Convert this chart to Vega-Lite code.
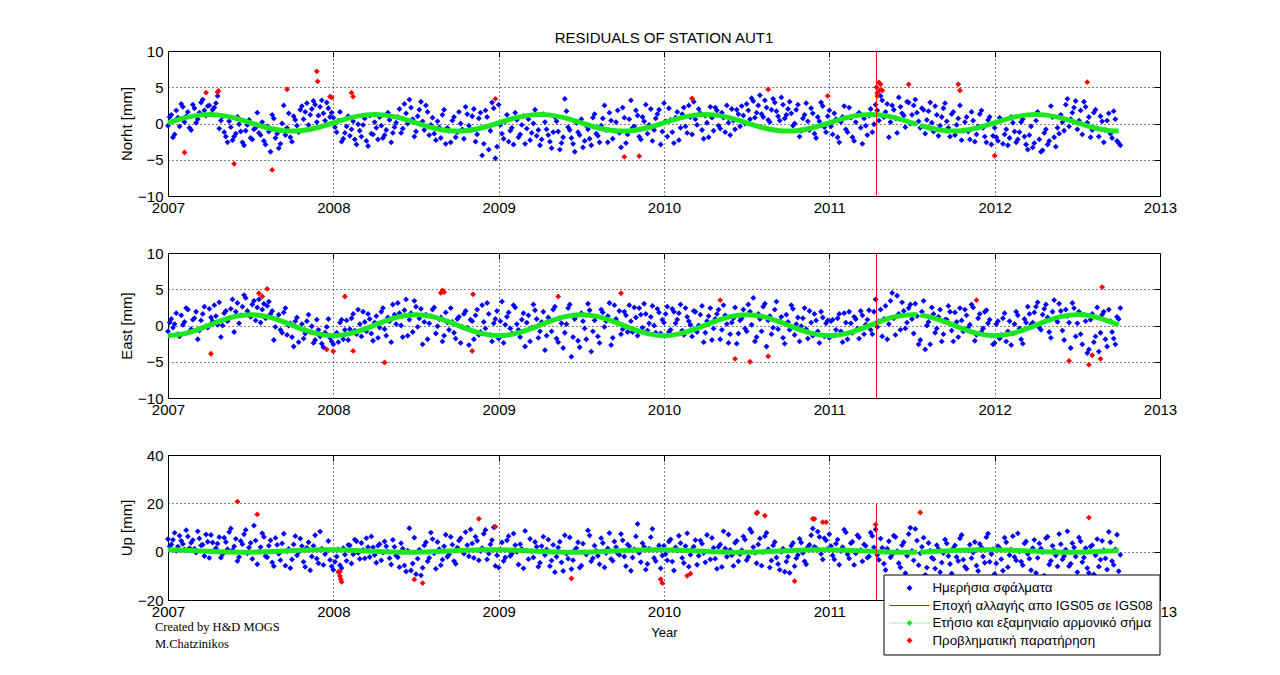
{
"$schema": "https://vega.github.io/schema/vega-lite/v6.json",
"padding": {"left": 119, "top": 30, "right": 5, "bottom": 5},
"bounds": "flush",
"spacing": 57,
"config": {
  "font": "Liberation Sans",
  "view": {"stroke": "black", "strokeWidth": 1},
  "axis": {"labelFont": "Liberation Sans", "labelFontSize": 15, "labelColor": "black", "titleFont": "Liberation Sans", "titleFontSize": 15, "titleFontWeight": "normal", "titleColor": "black", "domainColor": "black", "tickColor": "black", "ticks": false, "gridColor": "black", "gridDash": [1, 3], "gridOpacity": 1, "labelOverlap": false, "labelFlush": false}
},
"datasets": {
"daily": [
{"t":2007.00,"n":-0.3,"e":-0.8,"u":5.2},{"t":2007.02,"n":1.2,"e":0.9,"u":3.0},{"t":2007.04,"n":-1.5,"e":0.2,"u":7.8},{"t":2007.06,"n":0.8,"e":-1.2,"u":2.1},{"t":2007.08,"n":2.7,"e":1.4,"u":4.5},{"t":2007.10,"n":0.2,"e":0.5,"u":0.9},{"t":2007.12,"n":1.6,"e":2.2,"u":6.3},{"t":2007.14,"n":-0.9,"e":-0.5,"u":3.7},{"t":2007.16,"n":2.1,"e":1.0,"u":1.2},{"t":2007.18,"n":0.6,"e":-1.9,"u":8.4},
{"t":2007.20,"n":2.9,"e":0.7,"u":2.6},{"t":2007.22,"n":1.8,"e":2.6,"u":-1.8},{"t":2007.24,"n":2.4,"e":-0.3,"u":4.1},{"t":2007.26,"n":1.3,"e":1.1,"u":6.9},{"t":2007.28,"n":2.2,"e":2.8,"u":0.4},{"t":2007.30,"n":3.8,"e":0.1,"u":3.3},{"t":2007.32,"n":0.4,"e":-1.6,"u":-2.5},{"t":2007.34,"n":-1.2,"e":1.7,"u":5.8},{"t":2007.36,"n":-2.6,"e":0.6,"u":1.0},{"t":2007.38,"n":-0.5,"e":2.3,"u":9.6},
{"t":2007.40,"n":-1.8,"e":-0.9,"u":2.2},{"t":2007.42,"n":0.9,"e":3.1,"u":-3.9},{"t":2007.44,"n":-1.1,"e":1.4,"u":4.4},{"t":2007.46,"n":-3.0,"e":4.2,"u":7.2},{"t":2007.48,"n":-0.2,"e":2.0,"u":-0.7},{"t":2007.50,"n":-2.0,"e":1.2,"u":3.6},{"t":2007.52,"n":-0.8,"e":3.4,"u":10.8},{"t":2007.54,"n":1.5,"e":2.5,"u":-5.2},{"t":2007.56,"n":-1.6,"e":0.4,"u":1.9},{"t":2007.58,"n":-2.4,"e":3.0,"u":6.1},
{"t":2007.60,"n":-0.4,"e":2.7,"u":-2.3},{"t":2007.62,"n":-3.9,"e":1.6,"u":4.7},{"t":2007.64,"n":0.7,"e":-2.0,"u":-6.0},{"t":2007.66,"n":-1.4,"e":0.9,"u":2.8},{"t":2007.68,"n":-2.8,"e":-0.6,"u":-3.5},{"t":2007.70,"n":2.5,"e":1.8,"u":7.4},{"t":2007.72,"n":-0.6,"e":-1.3,"u":0.2},{"t":2007.74,"n":-1.9,"e":0.3,"u":-6.8},{"t":2007.76,"n":1.0,"e":-2.9,"u":3.0},{"t":2007.78,"n":-0.3,"e":1.1,"u":-1.5},
{"t":2007.80,"n":1.9,"e":-0.4,"u":5.4},{"t":2007.82,"n":0.6,"e":-1.8,"u":-4.2},{"t":2007.84,"n":2.8,"e":0.6,"u":1.6},{"t":2007.86,"n":1.2,"e":-0.9,"u":-7.7},{"t":2007.88,"n":3.1,"e":-2.4,"u":2.4},{"t":2007.90,"n":0.2,"e":0.8,"u":-2.9},{"t":2007.92,"n":2.3,"e":-1.5,"u":8.3},{"t":2007.94,"n":1.4,"e":-3.0,"u":-5.5},{"t":2007.96,"n":2.9,"e":-0.2,"u":0.5},{"t":2007.98,"n":0.9,"e":-1.7,"u":-3.4},
{"t":2008.00,"n":0.8,"e":-2.6,"u":-7.5},{"t":2008.02,"n":-1.2,"e":-1.0,"u":-2.0},{"t":2008.04,"n":1.6,"e":0.4,"u":-5.6},{"t":2008.06,"n":-2.1,"e":-1.9,"u":1.4},{"t":2008.08,"n":-0.4,"e":0.7,"u":-3.8},{"t":2008.10,"n":-1.7,"e":-0.5,"u":2.6},{"t":2008.12,"n":0.3,"e":1.6,"u":-1.1},{"t":2008.14,"n":-2.9,"e":-1.2,"u":4.3},{"t":2008.16,"n":-1.0,"e":0.2,"u":-3.0},{"t":2008.18,"n":-0.2,"e":1.9,"u":0.7},
{"t":2008.20,"n":-2.4,"e":-0.8,"u":5.6},{"t":2008.22,"n":1.1,"e":0.9,"u":-2.2},{"t":2008.24,"n":-1.5,"e":-2.1,"u":1.8},{"t":2008.26,"n":-0.6,"e":1.3,"u":-4.6},{"t":2008.28,"n":0.9,"e":-0.3,"u":3.1},{"t":2008.30,"n":-2.0,"e":2.4,"u":-0.4},{"t":2008.32,"n":-0.9,"e":-1.4,"u":2.2},{"t":2008.34,"n":0.5,"e":0.6,"u":-2.7},{"t":2008.36,"n":-1.3,"e":2.9,"u":4.9},{"t":2008.38,"n":0.1,"e":0.2,"u":-1.6},
{"t":2008.40,"n":2.0,"e":1.7,"u":-6.4},{"t":2008.42,"n":-0.7,"e":-1.6,"u":1.2},{"t":2008.44,"n":1.4,"e":3.6,"u":-8.2},{"t":2008.46,"n":3.3,"e":0.8,"u":9.7},{"t":2008.48,"n":0.6,"e":-0.9,"u":-4.9},{"t":2008.50,"n":-1.1,"e":2.6,"u":-9.3},{"t":2008.52,"n":1.9,"e":1.0,"u":0.8},{"t":2008.54,"n":0.3,"e":-2.6,"u":-6.7},{"t":2008.56,"n":2.5,"e":1.5,"u":3.9},{"t":2008.58,"n":-1.6,"e":0.3,"u":-2.6},
{"t":2008.60,"n":0.8,"e":2.2,"u":5.2},{"t":2008.62,"n":-2.3,"e":-1.1,"u":-7.1},{"t":2008.64,"n":-0.5,"e":0.9,"u":1.0},{"t":2008.66,"n":1.2,"e":-2.2,"u":-3.3},{"t":2008.68,"n":-2.8,"e":1.8,"u":7.0},{"t":2008.70,"n":-1.0,"e":-0.6,"u":-1.2},{"t":2008.72,"n":0.4,"e":0.5,"u":2.9},{"t":2008.74,"n":-1.9,"e":-1.8,"u":-5.0},{"t":2008.76,"n":1.6,"e":1.2,"u":4.6},{"t":2008.78,"n":-0.8,"e":-0.2,"u":0.3},
{"t":2008.80,"n":2.3,"e":2.0,"u":8.1},{"t":2008.82,"n":-0.3,"e":-2.7,"u":-1.9},{"t":2008.84,"n":1.0,"e":0.6,"u":3.4},{"t":2008.86,"n":-2.5,"e":1.4,"u":6.2},{"t":2008.88,"n":0.7,"e":-1.3,"u":-3.6},{"t":2008.90,"n":-4.4,"e":2.8,"u":1.5},{"t":2008.92,"n":1.8,"e":-0.4,"u":9.0},{"t":2008.94,"n":-3.6,"e":1.6,"u":-0.8},{"t":2008.96,"n":2.9,"e":-2.2,"u":4.8},{"t":2008.98,"n":-4.8,"e":0.9,"u":-5.9},
{"t":2009.00,"n":2.6,"e":-1.8,"u":-6.6},{"t":2009.02,"n":-1.4,"e":3.3,"u":3.8},{"t":2009.04,"n":0.3,"e":0.1,"u":-2.4},{"t":2009.06,"n":-2.5,"e":1.8,"u":6.4},{"t":2009.08,"n":-0.6,"e":-1.1,"u":-0.9},{"t":2009.10,"n":1.5,"e":2.5,"u":2.7},{"t":2009.12,"n":-1.9,"e":-0.6,"u":-5.3},{"t":2009.14,"n":-0.2,"e":0.8,"u":1.1},{"t":2009.16,"n":-2.8,"e":-2.9,"u":8.6},{"t":2009.18,"n":0.6,"e":1.4,"u":-3.1},
{"t":2009.20,"n":-1.3,"e":-0.3,"u":0.2},{"t":2009.22,"n":1.9,"e":2.1,"u":4.0},{"t":2009.24,"n":-0.9,"e":-1.7,"u":-6.2},{"t":2009.26,"n":-2.2,"e":0.5,"u":2.3},{"t":2009.28,"n":0.2,"e":-3.4,"u":-1.4},{"t":2009.30,"n":-1.6,"e":1.1,"u":5.0},{"t":2009.32,"n":-3.4,"e":-0.8,"u":-3.7},{"t":2009.34,"n":0.9,"e":2.6,"u":-8.5},{"t":2009.36,"n":-1.1,"e":-2.3,"u":1.7},{"t":2009.38,"n":-2.7,"e":0.3,"u":-4.4},
{"t":2009.40,"n":3.4,"e":-1.0,"u":6.8},{"t":2009.42,"n":-0.5,"e":2.4,"u":-2.9},{"t":2009.44,"n":-2.0,"e":-4.3,"u":-7.2},{"t":2009.46,"n":-3.9,"e":0.9,"u":0.6},{"t":2009.48,"n":-1.2,"e":-2.1,"u":3.9},{"t":2009.50,"n":0.6,"e":1.7,"u":-5.8},{"t":2009.52,"n":-2.4,"e":-0.4,"u":-0.3},{"t":2009.54,"n":-0.8,"e":3.0,"u":8.8},{"t":2009.56,"n":-3.0,"e":-3.6,"u":-4.0},{"t":2009.58,"n":1.3,"e":0.7,"u":2.5},
{"t":2009.60,"n":-1.7,"e":-1.5,"u":-1.7},{"t":2009.62,"n":-0.3,"e":2.2,"u":5.6},{"t":2009.64,"n":2.5,"e":-0.2,"u":-6.5},{"t":2009.66,"n":-2.6,"e":1.3,"u":1.3},{"t":2009.68,"n":0.4,"e":-2.7,"u":-3.0},{"t":2009.70,"n":-1.0,"e":2.8,"u":4.2},{"t":2009.72,"n":1.8,"e":0.4,"u":-0.8},{"t":2009.74,"n":-3.3,"e":-1.2,"u":7.3},{"t":2009.76,"n":0.8,"e":1.9,"u":-2.0},{"t":2009.78,"n":-1.5,"e":-0.9,"u":3.0},
{"t":2009.80,"n":3.2,"e":0.6,"u":-7.9},{"t":2009.82,"n":-0.4,"e":2.5,"u":1.0},{"t":2009.84,"n":1.1,"e":-1.4,"u":11.5},{"t":2009.86,"n":-2.2,"e":1.5,"u":-4.3},{"t":2009.88,"n":0.3,"e":3.0,"u":2.0},{"t":2009.90,"n":-1.4,"e":-0.7,"u":-5.1},{"t":2009.92,"n":2.0,"e":1.2,"u":6.0},{"t":2009.94,"n":-0.9,"e":0.0,"u":-2.6},{"t":2009.96,"n":1.3,"e":2.3,"u":0.9},{"t":2009.98,"n":-2.9,"e":-1.1,"u":-6.9},
{"t":2010.00,"n":2.8,"e":0.4,"u":2.4},{"t":2010.02,"n":-1.8,"e":2.6,"u":-3.6},{"t":2010.04,"n":0.5,"e":-0.6,"u":5.1},{"t":2010.06,"n":-2.7,"e":1.9,"u":-7.8},{"t":2010.08,"n":1.6,"e":0.8,"u":0.4},{"t":2010.10,"n":-0.6,"e":2.9,"u":3.5},{"t":2010.12,"n":2.2,"e":-1.3,"u":-4.7},{"t":2010.14,"n":-1.3,"e":1.2,"u":7.6},{"t":2010.16,"n":0.9,"e":0.1,"u":-1.3},{"t":2010.18,"n":3.0,"e":2.0,"u":2.1},
{"t":2010.20,"n":-0.2,"e":-0.9,"u":-5.4},{"t":2010.22,"n":1.4,"e":1.5,"u":4.6},{"t":2010.24,"n":-2.1,"e":-2.3,"u":-0.6},{"t":2010.26,"n":0.1,"e":0.6,"u":6.9},{"t":2010.28,"n":2.3,"e":2.4,"u":-3.2},{"t":2010.30,"n":-1.0,"e":-0.4,"u":1.6},{"t":2010.32,"n":1.8,"e":1.6,"u":-7.1},{"t":2010.34,"n":-0.7,"e":-1.9,"u":3.0},{"t":2010.36,"n":0.8,"e":2.8,"u":8.4},{"t":2010.38,"n":2.5,"e":0.2,"u":-2.1},
{"t":2010.40,"n":-1.6,"e":-1.2,"u":0.7},{"t":2010.42,"n":0.4,"e":1.0,"u":-5.9},{"t":2010.44,"n":1.9,"e":-2.5,"u":4.4},{"t":2010.46,"n":-0.4,"e":0.7,"u":-1.0},{"t":2010.48,"n":1.1,"e":2.2,"u":6.3},{"t":2010.50,"n":2.7,"e":-0.8,"u":-3.5},{"t":2010.52,"n":0.6,"e":1.9,"u":9.3},{"t":2010.54,"n":3.1,"e":3.8,"u":1.9},{"t":2010.56,"n":1.5,"e":-1.6,"u":-4.8},{"t":2010.58,"n":3.9,"e":0.9,"u":5.5},
{"t":2010.60,"n":0.9,"e":2.6,"u":-0.2},{"t":2010.62,"n":2.2,"e":-2.9,"u":7.8},{"t":2010.64,"n":0.2,"e":1.3,"u":-6.6},{"t":2010.66,"n":3.4,"e":-0.3,"u":2.6},{"t":2010.68,"n":1.7,"e":3.3,"u":-2.4},{"t":2010.70,"n":0.4,"e":0.6,"u":-7.5},{"t":2010.72,"n":2.6,"e":-1.7,"u":1.2},{"t":2010.74,"n":1.2,"e":1.5,"u":-4.1},{"t":2010.76,"n":3.0,"e":-0.6,"u":-8.8},{"t":2010.78,"n":-0.3,"e":2.3,"u":3.6},
{"t":2010.80,"n":1.9,"e":0.2,"u":-2.7},{"t":2010.82,"n":-1.8,"e":-2.2,"u":5.3},{"t":2010.84,"n":0.7,"e":1.0,"u":-0.5},{"t":2010.86,"n":2.8,"e":-0.5,"u":-5.2},{"t":2010.88,"n":-0.9,"e":2.0,"u":2.9},{"t":2010.90,"n":1.4,"e":-1.4,"u":9.6},{"t":2010.92,"n":-2.0,"e":0.7,"u":1.4},{"t":2010.94,"n":0.3,"e":-2.4,"u":6.1},{"t":2010.96,"n":2.4,"e":1.1,"u":-3.2},{"t":2010.98,"n":-1.2,"e":0.3,"u":4.7},
{"t":2011.00,"n":1.8,"e":-1.7,"u":7.2},{"t":2011.02,"n":-1.5,"e":0.8,"u":-1.6},{"t":2011.04,"n":0.6,"e":-0.6,"u":3.3},{"t":2011.06,"n":-2.6,"e":1.6,"u":-5.4},{"t":2011.08,"n":0.9,"e":-2.3,"u":1.9},{"t":2011.10,"n":-0.8,"e":0.4,"u":8.0},{"t":2011.12,"n":2.2,"e":1.9,"u":-2.8},{"t":2011.14,"n":-1.9,"e":-1.0,"u":4.1},{"t":2011.16,"n":0.2,"e":0.9,"u":-0.7},{"t":2011.18,"n":1.5,"e":-1.8,"u":5.9},
{"t":2011.20,"n":-2.8,"e":1.4,"u":-4.0},{"t":2011.22,"n":-0.3,"e":0.1,"u":2.4},{"t":2011.24,"n":1.1,"e":2.1,"u":-2.0},{"t":2011.26,"n":-1.2,"e":-1.2,"u":6.5},{"t":2011.28,"n":2.6,"e":3.6,"u":9.2},{"t":2011.30,"n":0.4,"e":0.6,"u":-3.4},{"t":2011.32,"n":3.2,"e":-1.5,"u":1.6},{"t":2011.34,"n":1.6,"e":2.7,"u":-7.6},{"t":2011.36,"n":-1.9,"e":0.2,"u":4.3},{"t":2011.38,"n":2.5,"e":4.5,"u":-1.2},
{"t":2011.40,"n":0.7,"e":-1.3,"u":6.1},{"t":2011.42,"n":3.6,"e":1.6,"u":-4.8},{"t":2011.44,"n":1.4,"e":3.2,"u":2.7},{"t":2011.46,"n":-0.5,"e":-0.4,"u":-8.9},{"t":2011.48,"n":2.9,"e":2.4,"u":7.3},{"t":2011.50,"n":1.2,"e":0.9,"u":0.3},{"t":2011.52,"n":3.3,"e":3.0,"u":9.4},{"t":2011.54,"n":0.3,"e":-2.6,"u":-5.6},{"t":2011.56,"n":2.1,"e":1.9,"u":2.0},{"t":2011.58,"n":-1.4,"e":-3.3,"u":-9.6},
{"t":2011.60,"n":1.7,"e":0.5,"u":3.6},{"t":2011.62,"n":0.1,"e":2.5,"u":-2.5},{"t":2011.64,"n":2.4,"e":-1.0,"u":-7.0},{"t":2011.66,"n":-1.7,"e":1.2,"u":1.1},{"t":2011.68,"n":0.9,"e":-2.2,"u":-4.5},{"t":2011.70,"n":2.8,"e":0.8,"u":5.0},{"t":2011.72,"n":-0.6,"e":2.7,"u":-1.8},{"t":2011.74,"n":1.3,"e":-0.7,"u":-9.0},{"t":2011.76,"n":-1.6,"e":1.8,"u":2.6},{"t":2011.78,"n":0.7,"e":-1.6,"u":-3.9},
{"t":2011.80,"n":-2.3,"e":0.7,"u":6.9},{"t":2011.82,"n":0.2,"e":2.2,"u":-6.2},{"t":2011.84,"n":-1.1,"e":-0.3,"u":0.6},{"t":2011.86,"n":1.6,"e":2.9,"u":-2.7},{"t":2011.88,"n":-2.5,"e":-2.1,"u":4.0},{"t":2011.90,"n":-0.4,"e":1.0,"u":-8.0},{"t":2011.92,"n":1.8,"e":-0.9,"u":1.8},{"t":2011.94,"n":-1.8,"e":1.9,"u":-4.6},{"t":2011.96,"n":0.5,"e":0.3,"u":7.5},{"t":2011.98,"n":-2.9,"e":-1.4,"u":-1.0},
{"t":2012.00,"n":-0.6,"e":-2.4,"u":-9.2},{"t":2012.02,"n":-2.4,"e":0.6,"u":2.3},{"t":2012.04,"n":0.5,"e":-1.3,"u":-3.1},{"t":2012.06,"n":-1.5,"e":1.7,"u":5.8},{"t":2012.08,"n":-3.0,"e":-0.8,"u":-6.4},{"t":2012.10,"n":0.9,"e":-2.7,"u":0.8},{"t":2012.12,"n":-1.1,"e":0.2,"u":-2.2},{"t":2012.14,"n":-2.2,"e":1.4,"u":7.6},{"t":2012.16,"n":0.2,"e":-1.9,"u":-4.1},{"t":2012.18,"n":-1.8,"e":0.9,"u":3.4},
{"t":2012.20,"n":-3.6,"e":2.6,"u":-0.9},{"t":2012.22,"n":-0.4,"e":0.1,"u":-7.7},{"t":2012.24,"n":-2.7,"e":1.8,"u":4.9},{"t":2012.26,"n":1.6,"e":3.2,"u":-2.6},{"t":2012.28,"n":-3.9,"e":-0.6,"u":1.3},{"t":2012.30,"n":-1.3,"e":2.3,"u":-9.9},{"t":2012.32,"n":-2.9,"e":1.1,"u":6.2},{"t":2012.34,"n":2.4,"e":-1.7,"u":-3.8},{"t":2012.36,"n":-1.9,"e":3.5,"u":0.4},{"t":2012.38,"n":-0.6,"e":0.5,"u":-6.1},
{"t":2012.40,"n":1.2,"e":2.0,"u":3.1},{"t":2012.42,"n":-1.0,"e":-2.0,"u":-1.9},{"t":2012.44,"n":3.4,"e":1.3,"u":8.4},{"t":2012.46,"n":0.6,"e":-3.1,"u":-5.0},{"t":2012.48,"n":2.2,"e":2.4,"u":1.7},{"t":2012.50,"n":-0.8,"e":0.3,"u":-8.5},{"t":2012.52,"n":1.8,"e":-1.2,"u":4.3},{"t":2012.54,"n":3.0,"e":1.5,"u":-2.4},{"t":2012.56,"n":0.1,"e":-3.8,"u":-6.8},{"t":2012.58,"n":-1.9,"e":0.8,"u":2.1},
{"t":2012.60,"n":1.5,"e":-2.3,"u":-9.4},{"t":2012.62,"n":-0.7,"e":2.5,"u":5.2},{"t":2012.64,"n":1.0,"e":-1.0,"u":-3.3},{"t":2012.66,"n":-2.6,"e":1.9,"u":0.6},{"t":2012.68,"n":0.4,"e":-2.9,"u":-7.4},{"t":2012.70,"n":-1.4,"e":0.6,"u":3.9},{"t":2012.72,"n":1.7,"e":-1.8,"u":-5.5},{"t":2012.74,"n":-2.4,"e":1.2,"u":7.0},{"t":2012.76,"n":-3.0,"e":2.4,"u":-1.3},
{"t":2007.01,"n":0.9,"e":0.4,"u":2.2},{"t":2007.03,"n":-1.9,"e":-0.3,"u":4.9},{"t":2007.05,"n":1.8,"e":1.7,"u":0.3},{"t":2007.07,"n":-0.4,"e":-1.5,"u":6.6},{"t":2007.09,"n":2.3,"e":0.1,"u":3.2},{"t":2007.11,"n":1.0,"e":2.4,"u":8.9},{"t":2007.13,"n":-0.6,"e":-0.9,"u":1.5},{"t":2007.15,"n":2.6,"e":0.8,"u":4.8},{"t":2007.17,"n":0.1,"e":1.9,"u":-0.4},{"t":2007.19,"n":1.5,"e":-0.7,"u":5.5},
{"t":2007.21,"n":3.3,"e":1.6,"u":2.9},{"t":2007.23,"n":1.1,"e":-0.1,"u":7.1},{"t":2007.25,"n":2.5,"e":2.3,"u":-2.6},{"t":2007.27,"n":1.9,"e":0.6,"u":3.8},{"t":2007.29,"n":2.8,"e":1.3,"u":1.4},{"t":2007.31,"n":-0.7,"e":3.2,"u":6.0},{"t":2007.33,"n":1.0,"e":0.0,"u":-1.1},{"t":2007.35,"n":-1.8,"e":2.0,"u":4.0},{"t":2007.37,"n":0.3,"e":1.0,"u":8.1},{"t":2007.39,"n":-2.3,"e":3.6,"u":0.6},
{"t":2007.41,"n":-1.4,"e":1.9,"u":5.3},{"t":2007.43,"n":-0.1,"e":0.3,"u":-2.2},{"t":2007.45,"n":-2.6,"e":2.6,"u":3.1},{"t":2007.47,"n":-1.0,"e":3.8,"u":9.0},{"t":2007.49,"n":0.5,"e":1.5,"u":1.7},{"t":2007.51,"n":-2.2,"e":2.9,"u":-3.0},{"t":2007.53,"n":-0.6,"e":0.7,"u":4.6},{"t":2007.55,"n":-1.3,"e":3.6,"u":0.0},{"t":2007.57,"n":0.2,"e":2.2,"u":7.6},{"t":2007.59,"n":-2.9,"e":1.0,"u":-1.9},
{"t":2007.61,"n":-1.1,"e":3.3,"u":2.5},{"t":2007.63,"n":1.2,"e":2.0,"u":-4.4},{"t":2007.65,"n":-2.0,"e":-0.2,"u":5.7},{"t":2007.67,"n":-3.4,"e":1.5,"u":-0.9},{"t":2007.69,"n":0.0,"e":-1.0,"u":3.4},{"t":2007.71,"n":-1.6,"e":2.4,"u":-5.8},{"t":2007.73,"n":1.4,"e":0.0,"u":1.1},{"t":2007.75,"n":-2.5,"e":-1.6,"u":-3.2},{"t":2007.77,"n":0.5,"e":0.6,"u":6.4},{"t":2007.79,"n":-1.2,"e":-2.3,"u":-0.2},
{"t":2007.81,"n":2.4,"e":0.2,"u":2.3},{"t":2007.83,"n":1.6,"e":-1.1,"u":-6.3},{"t":2007.85,"n":-0.2,"e":1.5,"u":3.9},{"t":2007.87,"n":2.0,"e":-0.1,"u":-2.0},{"t":2007.89,"n":2.6,"e":-2.0,"u":6.8},{"t":2007.91,"n":1.1,"e":-0.6,"u":-4.8},{"t":2007.93,"n":3.2,"e":-2.5,"u":1.2},{"t":2007.95,"n":0.4,"e":-1.0,"u":-1.0},{"t":2007.97,"n":2.1,"e":0.9,"u":4.4},{"t":2007.99,"n":1.5,"e":-2.2,"u":-6.1},
{"t":2008.01,"n":-0.5,"e":-1.4,"u":-4.2},{"t":2008.03,"n":0.4,"e":-2.3,"u":0.9},{"t":2008.05,"n":-2.5,"e":0.8,"u":-6.8},{"t":2008.07,"n":-1.3,"e":-0.6,"u":-1.2},{"t":2008.09,"n":1.0,"e":-2.0,"u":2.8},{"t":2008.11,"n":-0.8,"e":1.0,"u":-4.9},{"t":2008.13,"n":-2.2,"e":-0.7,"u":5.0},{"t":2008.15,"n":-0.1,"e":2.2,"u":-0.5},{"t":2008.17,"n":-1.8,"e":-1.5,"u":3.6},{"t":2008.19,"n":0.7,"e":0.5,"u":-2.8},
{"t":2008.21,"n":-3.1,"e":1.6,"u":1.9},{"t":2008.23,"n":-1.4,"e":-1.1,"u":6.3},{"t":2008.25,"n":0.2,"e":0.4,"u":-1.4},{"t":2008.27,"n":-2.2,"e":-1.7,"u":2.5},{"t":2008.29,"n":-0.3,"e":1.9,"u":-3.6},{"t":2008.31,"n":-1.6,"e":-0.5,"u":4.2},{"t":2008.33,"n":1.5,"e":1.1,"u":0.0},{"t":2008.35,"n":-2.6,"e":-2.3,"u":-5.3},{"t":2008.37,"n":-0.5,"e":1.5,"u":2.0},{"t":2008.39,"n":0.9,"e":3.1,"u":-2.3},
{"t":2008.41,"n":-1.3,"e":0.0,"u":3.5},{"t":2008.43,"n":2.7,"e":2.1,"u":-5.7},{"t":2008.45,"n":0.0,"e":-1.4,"u":0.4},{"t":2008.47,"n":2.2,"e":1.7,"u":-7.8},{"t":2008.49,"n":-1.8,"e":3.4,"u":5.8},{"t":2008.51,"n":1.0,"e":-0.2,"u":-2.9},{"t":2008.53,"n":3.0,"e":2.3,"u":-9.8},{"t":2008.55,"n":-0.9,"e":0.5,"u":2.6},{"t":2008.57,"n":1.6,"e":-1.9,"u":-4.0},{"t":2008.59,"n":-0.2,"e":1.3,"u":7.9},
{"t":2008.61,"n":-1.4,"e":2.5,"u":-0.7},{"t":2008.63,"n":0.3,"e":-0.1,"u":4.0},{"t":2008.65,"n":-2.0,"e":1.1,"u":-5.6},{"t":2008.67,"n":1.9,"e":-1.4,"u":2.2},{"t":2008.69,"n":-0.6,"e":0.4,"u":-2.1},{"t":2008.71,"n":-2.6,"e":2.4,"u":6.1},{"t":2008.73,"n":0.9,"e":-1.0,"u":-3.9},{"t":2008.75,"n":-1.2,"e":0.9,"u":1.7},{"t":2008.77,"n":0.0,"e":-2.4,"u":5.6},{"t":2008.79,"n":-2.1,"e":1.6,"u":-0.8},
{"t":2008.81,"n":1.3,"e":-0.3,"u":2.7},{"t":2008.83,"n":-0.9,"e":0.8,"u":9.2},{"t":2008.85,"n":2.0,"e":-1.9,"u":-2.6},{"t":2008.87,"n":-1.5,"e":2.2,"u":4.5},{"t":2008.89,"n":1.5,"e":-0.9,"u":0.2},{"t":2008.91,"n":-2.8,"e":0.5,"u":7.4},{"t":2008.93,"n":0.9,"e":3.1,"u":-3.2},{"t":2008.95,"n":-1.0,"e":-1.3,"u":3.0},{"t":2008.97,"n":2.1,"e":0.3,"u":10.1},{"t":2008.99,"n":-3.2,"e":2.0,"u":-1.5},
{"t":2009.01,"n":-0.2,"e":0.6,"u":1.0},{"t":2009.03,"n":-2.1,"e":-2.4,"u":-3.9},{"t":2009.05,"n":1.2,"e":1.2,"u":4.7},{"t":2009.07,"n":-1.0,"e":-0.4,"u":-1.8},{"t":2009.09,"n":-2.9,"e":2.8,"u":7.5},{"t":2009.11,"n":0.5,"e":0.2,"u":-0.1},{"t":2009.13,"n":-1.5,"e":-1.6,"u":3.1},{"t":2009.15,"n":1.0,"e":1.7,"u":-6.9},{"t":2009.17,"n":-0.7,"e":0.4,"u":0.5},{"t":2009.19,"n":-2.3,"e":-2.2,"u":5.3},
{"t":2009.21,"n":0.0,"e":2.9,"u":-2.4},{"t":2009.23,"n":-1.7,"e":0.9,"u":2.0},{"t":2009.25,"n":-3.0,"e":-0.8,"u":-4.6},{"t":2009.27,"n":1.3,"e":1.9,"u":6.2},{"t":2009.29,"n":-0.8,"e":-1.4,"u":0.9},{"t":2009.31,"n":-2.5,"e":0.7,"u":-6.0},{"t":2009.33,"n":-1.2,"e":2.2,"u":2.8},{"t":2009.35,"n":0.3,"e":-1.8,"u":-2.1},{"t":2009.37,"n":-3.6,"e":1.0,"u":4.1},{"t":2009.39,"n":-1.9,"e":-3.1,"u":-8.0},
{"t":2009.41,"n":1.7,"e":0.2,"u":-0.9},{"t":2009.43,"n":-0.9,"e":2.9,"u":5.9},{"t":2009.45,"n":-2.8,"e":-1.6,"u":-3.5},{"t":2009.47,"n":0.1,"e":1.4,"u":1.5},{"t":2009.49,"n":-1.6,"e":-3.0,"u":-6.6},{"t":2009.51,"n":-3.3,"e":0.6,"u":3.3},{"t":2009.53,"n":-0.3,"e":-1.9,"u":-1.2},{"t":2009.55,"n":-2.1,"e":2.1,"u":6.7},{"t":2009.57,"n":0.8,"e":-0.8,"u":-2.7},{"t":2009.59,"n":-1.4,"e":1.2,"u":0.4},
{"t":2009.61,"n":-2.6,"e":-2.4,"u":-5.2},{"t":2009.63,"n":0.7,"e":1.8,"u":3.6},{"t":2009.65,"n":-0.9,"e":0.6,"u":-0.6},{"t":2009.67,"n":1.5,"e":3.1,"u":7.7},{"t":2009.69,"n":-2.1,"e":-1.7,"u":-3.8},{"t":2009.71,"n":0.2,"e":0.9,"u":1.9},{"t":2009.73,"n":-1.3,"e":2.0,"u":-1.3},{"t":2009.75,"n":2.2,"e":-0.5,"u":4.7},{"t":2009.77,"n":-2.7,"e":1.4,"u":-6.0},{"t":2009.79,"n":0.6,"e":2.8,"u":2.2},
{"t":2009.81,"n":-0.6,"e":-0.9,"u":-2.4},{"t":2009.83,"n":1.8,"e":1.1,"u":6.3},{"t":2009.85,"n":-1.8,"e":2.4,"u":-0.5},{"t":2009.87,"n":0.9,"e":-0.3,"u":3.5},{"t":2009.89,"n":2.6,"e":1.6,"u":-7.4},{"t":2009.91,"n":-0.2,"e":0.3,"u":1.2},{"t":2009.93,"n":-2.4,"e":2.7,"u":9.4},{"t":2009.95,"n":0.7,"e":-1.0,"u":-3.9},{"t":2009.97,"n":1.9,"e":1.8,"u":2.6},{"t":2009.99,"n":-1.1,"e":0.8,"u":-1.6},
{"t":2010.01,"n":0.3,"e":1.6,"u":-1.0},{"t":2010.03,"n":2.1,"e":-0.9,"u":4.2},{"t":2010.05,"n":-1.2,"e":2.3,"u":-4.1},{"t":2010.07,"n":0.8,"e":0.3,"u":1.8},{"t":2010.09,"n":-2.3,"e":1.7,"u":6.6},{"t":2010.11,"n":1.3,"e":-0.7,"u":-2.6},{"t":2010.13,"n":-0.4,"e":2.4,"u":2.3},{"t":2010.15,"n":2.5,"e":0.6,"u":-6.2},{"t":2010.17,"n":-1.5,"e":-1.5,"u":0.9},{"t":2010.19,"n":0.6,"e":1.9,"u":4.8},
{"t":2010.21,"n":2.0,"e":0.0,"u":-1.7},{"t":2010.23,"n":-0.9,"e":2.7,"u":3.3},{"t":2010.25,"n":1.1,"e":-1.0,"u":-4.4},{"t":2010.27,"n":-1.9,"e":1.3,"u":0.1},{"t":2010.29,"n":0.8,"e":-2.0,"u":5.7},{"t":2010.31,"n":2.2,"e":0.9,"u":-2.9},{"t":2010.33,"n":-0.3,"e":2.2,"u":2.0},{"t":2010.35,"n":1.5,"e":-0.6,"u":-6.3},{"t":2010.37,"n":-1.2,"e":1.4,"u":1.3},{"t":2010.39,"n":0.1,"e":-2.4,"u":7.1},
{"t":2010.41,"n":2.0,"e":0.4,"u":-1.5},{"t":2010.43,"n":-0.8,"e":2.5,"u":3.7},{"t":2010.45,"n":1.3,"e":-1.1,"u":-4.0},{"t":2010.47,"n":2.4,"e":1.0,"u":0.6},{"t":2010.49,"n":0.0,"e":-0.4,"u":5.0},{"t":2010.51,"n":1.8,"e":2.9,"u":-2.2},{"t":2010.53,"n":3.5,"e":0.1,"u":8.1},{"t":2010.55,"n":0.8,"e":-2.2,"u":-0.5},{"t":2010.57,"n":2.5,"e":1.6,"u":3.0},{"t":2010.59,"n":1.3,"e":-0.8,"u":-5.8},
{"t":2010.61,"n":3.2,"e":3.0,"u":6.4},{"t":2010.63,"n":0.5,"e":0.7,"u":1.0},{"t":2010.65,"n":1.9,"e":-1.2,"u":-3.7},{"t":2010.67,"n":2.9,"e":2.2,"u":4.0},{"t":2010.69,"n":1.0,"e":-0.5,"u":-5.1},{"t":2010.71,"n":3.6,"e":1.2,"u":0.0},{"t":2010.73,"n":0.7,"e":-2.5,"u":-8.3},{"t":2010.75,"n":2.0,"e":0.5,"u":-2.1},{"t":2010.77,"n":1.4,"e":2.8,"u":2.5},{"t":2010.79,"n":0.0,"e":-1.3,"u":-6.0},
{"t":2010.81,"n":2.6,"e":1.1,"u":-1.4},{"t":2010.83,"n":-1.0,"e":-0.1,"u":3.8},{"t":2010.85,"n":1.2,"e":2.4,"u":-4.0},{"t":2010.87,"n":0.3,"e":-1.8,"u":1.9},{"t":2010.89,"n":2.1,"e":0.4,"u":6.8},{"t":2010.91,"n":-1.4,"e":1.6,"u":2.0},{"t":2010.93,"n":0.9,"e":-0.8,"u":8.3},{"t":2010.95,"n":2.9,"e":1.9,"u":-0.9},{"t":2010.97,"n":-0.5,"e":-1.5,"u":5.6},{"t":2010.99,"n":1.0,"e":0.7,"u":1.1},
{"t":2011.01,"n":-0.4,"e":0.6,"u":2.3},{"t":2011.03,"n":1.4,"e":-1.4,"u":-3.2},{"t":2011.05,"n":-1.9,"e":1.0,"u":5.0},{"t":2011.07,"n":0.2,"e":-0.8,"u":0.2},{"t":2011.09,"n":2.4,"e":1.7,"u":9.1},{"t":2011.11,"n":-1.2,"e":-1.9,"u":-1.1},{"t":2011.13,"n":0.8,"e":0.3,"u":3.5},{"t":2011.15,"n":-2.4,"e":1.2,"u":-5.5},{"t":2011.17,"n":1.2,"e":-0.4,"u":6.8},{"t":2011.19,"n":-0.6,"e":2.0,"u":0.6},
{"t":2011.21,"n":0.7,"e":-1.2,"u":3.0},{"t":2011.23,"n":-1.6,"e":0.8,"u":-2.5},{"t":2011.25,"n":2.0,"e":-0.6,"u":7.9},{"t":2011.27,"n":-0.1,"e":1.9,"u":1.8},{"t":2011.29,"n":1.8,"e":-0.2,"u":-1.4},{"t":2011.31,"n":3.8,"e":2.2,"u":5.4},{"t":2011.33,"n":0.9,"e":0.9,"u":-5.0},{"t":2011.35,"n":2.7,"e":-1.9,"u":1.2},{"t":2011.37,"n":0.2,"e":3.4,"u":-2.3},{"t":2011.39,"n":1.9,"e":1.0,"u":6.6},
{"t":2011.41,"n":-1.3,"e":4.1,"u":0.2},{"t":2011.43,"n":2.3,"e":-0.6,"u":-6.5},{"t":2011.45,"n":1.1,"e":2.0,"u":3.9},{"t":2011.47,"n":3.0,"e":0.4,"u":-1.7},{"t":2011.49,"n":0.0,"e":2.9,"u":9.9},{"t":2011.51,"n":2.5,"e":-1.1,"u":-3.6},{"t":2011.53,"n":1.5,"e":1.3,"u":4.6},{"t":2011.55,"n":-0.6,"e":-2.0,"u":-0.7},{"t":2011.57,"n":1.9,"e":3.4,"u":5.8},{"t":2011.59,"n":0.5,"e":0.0,"u":-6.6},
{"t":2011.61,"n":2.9,"e":-2.6,"u":0.4},{"t":2011.63,"n":-1.1,"e":1.6,"u":-3.1},{"t":2011.65,"n":1.2,"e":-0.4,"u":2.7},{"t":2011.67,"n":-0.3,"e":2.2,"u":-8.5},{"t":2011.69,"n":2.1,"e":-1.2,"u":-0.6},{"t":2011.71,"n":0.3,"e":0.8,"u":3.4},{"t":2011.73,"n":-1.8,"e":1.9,"u":-5.1},{"t":2011.75,"n":1.6,"e":-2.2,"u":1.4},{"t":2011.77,"n":-0.2,"e":0.5,"u":-2.2},{"t":2011.79,"n":2.5,"e":2.4,"u":5.5},
{"t":2011.81,"n":-1.0,"e":-0.8,"u":-3.3},{"t":2011.83,"n":0.9,"e":1.4,"u":-7.1},{"t":2011.85,"n":-2.2,"e":0.1,"u":2.9},{"t":2011.87,"n":0.4,"e":2.5,"u":-0.4},{"t":2011.89,"n":-1.5,"e":-1.3,"u":-5.8},{"t":2011.91,"n":1.3,"e":1.6,"u":3.2},{"t":2011.93,"n":-0.6,"e":-0.4,"u":-2.0},{"t":2011.95,"n":-2.6,"e":2.1,"u":6.0},{"t":2011.97,"n":0.9,"e":0.8,"u":-4.2},{"t":2011.99,"n":-1.7,"e":-2.6,"u":1.0},
{"t":2012.01,"n":-1.9,"e":0.2,"u":-4.9},{"t":2012.03,"n":0.8,"e":-1.8,"u":1.5},{"t":2012.05,"n":-2.8,"e":1.0,"u":-7.9},{"t":2012.07,"n":-0.8,"e":-2.2,"u":3.9},{"t":2012.09,"n":-2.0,"e":0.6,"u":-1.4},{"t":2012.11,"n":0.1,"e":-1.1,"u":6.4},{"t":2012.13,"n":-2.6,"e":1.9,"u":-3.6},{"t":2012.15,"n":-1.2,"e":-0.4,"u":0.1},{"t":2012.17,"n":0.6,"e":-2.5,"u":-5.6},{"t":2012.19,"n":-2.9,"e":0.4,"u":4.2},
{"t":2012.21,"n":-1.6,"e":1.6,"u":-2.9},{"t":2012.23,"n":-3.3,"e":0.4,"u":1.5},{"t":2012.25,"n":0.4,"e":2.6,"u":-8.8},{"t":2012.27,"n":-2.2,"e":-0.3,"u":3.4},{"t":2012.29,"n":-3.7,"e":1.5,"u":-0.2},{"t":2012.31,"n":-0.8,"e":2.9,"u":5.6},{"t":2012.33,"n":-2.4,"e":-0.9,"u":-5.3},{"t":2012.35,"n":0.9,"e":1.9,"u":2.4},{"t":2012.37,"n":-3.2,"e":0.9,"u":-1.6},{"t":2012.39,"n":-1.4,"e":3.0,"u":7.3},
{"t":2012.41,"n":0.2,"e":-0.7,"u":-3.2},{"t":2012.43,"n":2.6,"e":2.2,"u":0.8},{"t":2012.45,"n":-0.4,"e":0.4,"u":-6.0},{"t":2012.47,"n":1.5,"e":3.1,"u":3.5},{"t":2012.49,"n":3.1,"e":-1.5,"u":-2.0},{"t":2012.51,"n":0.4,"e":1.9,"u":5.9},{"t":2012.53,"n":-1.5,"e":-2.6,"u":-4.3},{"t":2012.55,"n":2.3,"e":0.6,"u":1.4},{"t":2012.57,"n":0.9,"e":-3.3,"u":-8.8},{"t":2012.59,"n":-0.9,"e":1.6,"u":2.7},
{"t":2012.61,"n":1.9,"e":-1.5,"u":-1.5},{"t":2012.63,"n":-1.8,"e":-3.6,"u":-6.2},{"t":2012.65,"n":0.3,"e":1.5,"u":4.5},{"t":2012.67,"n":-0.9,"e":-1.9,"u":-2.8},{"t":2012.69,"n":1.4,"e":2.2,"u":8.2},{"t":2012.71,"n":-2.0,"e":-0.9,"u":-3.9},{"t":2012.73,"n":0.6,"e":-2.6,"u":0.9},{"t":2012.75,"n":-2.7,"e":0.9,"u":-8.1}
],
"bad": [
{"c":"N","t":2007.10,"v":-4.0},{"c":"N","t":2007.23,"v":4.25},{"c":"N","t":2007.30,"v":4.35},{"c":"N","t":2007.305,"v":4.5},{"c":"N","t":2007.40,"v":-5.55},{"c":"N","t":2007.63,"v":-6.4},{"c":"N","t":2007.72,"v":4.7},{"c":"N","t":2007.90,"v":7.2},{"c":"N","t":2007.905,"v":5.8},{"c":"N","t":2007.98,"v":3.7},{"c":"N","t":2007.99,"v":3.6},{"c":"N","t":2008.11,"v":4.25},{"c":"N","t":2008.12,"v":3.7},{"c":"N","t":2008.98,"v":3.4},{"c":"N","t":2009.76,"v":-4.6},{"c":"N","t":2009.85,"v":-4.5},{"c":"N","t":2010.17,"v":3.45},{"c":"N","t":2010.63,"v":4.7},{"c":"N","t":2010.99,"v":3.8},{"c":"N","t":2011.285,"v":5.0},{"c":"N","t":2011.30,"v":5.65},{"c":"N","t":2011.31,"v":5.4},{"c":"N","t":2011.305,"v":4.6},{"c":"N","t":2011.32,"v":4.55},{"c":"N","t":2011.29,"v":4.2},{"c":"N","t":2011.29,"v":3.8},{"c":"N","t":2011.48,"v":5.4},{"c":"N","t":2011.78,"v":5.4},{"c":"N","t":2011.79,"v":4.55},{"c":"N","t":2012.00,"v":-4.45},{"c":"N","t":2012.56,"v":5.7},
{"c":"E","t":2007.26,"v":-3.9},{"c":"E","t":2007.55,"v":4.45},{"c":"E","t":2007.57,"v":4.0},{"c":"E","t":2007.60,"v":5.05},{"c":"E","t":2007.96,"v":-3.3},{"c":"E","t":2008.00,"v":-3.55},{"c":"E","t":2008.07,"v":4.0},{"c":"E","t":2008.12,"v":-3.5},{"c":"E","t":2008.31,"v":-5.1},{"c":"E","t":2008.65,"v":4.5},{"c":"E","t":2008.66,"v":4.85},{"c":"E","t":2008.67,"v":4.6},{"c":"E","t":2008.84,"v":-3.5},{"c":"E","t":2008.845,"v":4.3},{"c":"E","t":2009.36,"v":4.0},{"c":"E","t":2009.74,"v":4.45},{"c":"E","t":2010.34,"v":3.5},{"c":"E","t":2010.43,"v":-4.6},{"c":"E","t":2010.52,"v":-5.0},{"c":"E","t":2010.63,"v":-4.25},{"c":"E","t":2011.89,"v":3.5},{"c":"E","t":2012.45,"v":-4.9},{"c":"E","t":2012.57,"v":-5.4},{"c":"E","t":2012.59,"v":-4.1},{"c":"E","t":2012.64,"v":-4.6},{"c":"E","t":2012.65,"v":5.3},
{"c":"U","t":2007.42,"v":20.7},{"c":"U","t":2007.54,"v":15.4},{"c":"U","t":2008.03,"v":-8.4},{"c":"U","t":2008.04,"v":-8.3},{"c":"U","t":2008.04,"v":-10.1},{"c":"U","t":2008.045,"v":-11.4},{"c":"U","t":2008.05,"v":-12.5},{"c":"U","t":2008.49,"v":-11.5},{"c":"U","t":2008.54,"v":-13.0},{"c":"U","t":2008.88,"v":13.6},{"c":"U","t":2008.98,"v":10.3},{"c":"U","t":2009.44,"v":-11.1},{"c":"U","t":2009.98,"v":-11.4},{"c":"U","t":2009.99,"v":-13.0},{"c":"U","t":2010.14,"v":-10.0},{"c":"U","t":2010.16,"v":-9.1},{"c":"U","t":2010.56,"v":15.9},{"c":"U","t":2010.565,"v":16.2},{"c":"U","t":2010.61,"v":14.9},{"c":"U","t":2010.79,"v":-12.2},{"c":"U","t":2010.90,"v":13.6},{"c":"U","t":2010.91,"v":13.6},{"c":"U","t":2010.96,"v":12.2},{"c":"U","t":2010.98,"v":12.2},{"c":"U","t":2011.28,"v":11.2},{"c":"U","t":2011.55,"v":16.2},{"c":"U","t":2012.57,"v":14.1}
],
"curve": [
{"t":2007.0,"seg":1,"n":0.10,"e":-1.40,"u":0.8},{"t":2007.1,"seg":1,"n":0.78,"e":-1.12,"u":0.6},{"t":2007.2,"seg":1,"n":1.19,"e":-0.40,"u":0.3},{"t":2007.3,"seg":1,"n":1.19,"e":0.50,"u":0.0},{"t":2007.4,"seg":1,"n":0.78,"e":1.22,"u":-0.2},{"t":2007.5,"seg":1,"n":0.10,"e":1.50,"u":-0.2},{"t":2007.6,"seg":1,"n":-0.58,"e":1.22,"u":0.0},{"t":2007.7,"seg":1,"n":-0.99,"e":0.50,"u":0.3},{"t":2007.8,"seg":1,"n":-0.99,"e":-0.40,"u":0.6},{"t":2007.9,"seg":1,"n":-0.58,"e":-1.12,"u":0.8},
{"t":2008.0,"seg":1,"n":0.10,"e":-1.40,"u":0.8},{"t":2008.1,"seg":1,"n":0.78,"e":-1.12,"u":0.6},{"t":2008.2,"seg":1,"n":1.19,"e":-0.40,"u":0.3},{"t":2008.3,"seg":1,"n":1.19,"e":0.50,"u":0.0},{"t":2008.4,"seg":1,"n":0.78,"e":1.22,"u":-0.2},{"t":2008.5,"seg":1,"n":0.10,"e":1.50,"u":-0.2},{"t":2008.6,"seg":1,"n":-0.58,"e":1.22,"u":0.0},{"t":2008.7,"seg":1,"n":-0.99,"e":0.50,"u":0.3},{"t":2008.8,"seg":1,"n":-0.99,"e":-0.40,"u":0.6},{"t":2008.9,"seg":1,"n":-0.58,"e":-1.12,"u":0.8},
{"t":2009.0,"seg":1,"n":0.10,"e":-1.40,"u":0.8},{"t":2009.1,"seg":1,"n":0.78,"e":-1.12,"u":0.6},{"t":2009.2,"seg":1,"n":1.19,"e":-0.40,"u":0.3},{"t":2009.3,"seg":1,"n":1.19,"e":0.50,"u":0.0},{"t":2009.4,"seg":1,"n":0.78,"e":1.22,"u":-0.2},{"t":2009.5,"seg":1,"n":0.10,"e":1.50,"u":-0.2},{"t":2009.6,"seg":1,"n":-0.58,"e":1.22,"u":0.0},{"t":2009.7,"seg":1,"n":-0.99,"e":0.50,"u":0.3},{"t":2009.8,"seg":1,"n":-0.99,"e":-0.40,"u":0.6},{"t":2009.9,"seg":1,"n":-0.58,"e":-1.12,"u":0.8},
{"t":2010.0,"seg":1,"n":0.10,"e":-1.40,"u":0.8},{"t":2010.1,"seg":1,"n":0.78,"e":-1.12,"u":0.6},{"t":2010.2,"seg":1,"n":1.19,"e":-0.40,"u":0.3},{"t":2010.3,"seg":1,"n":1.19,"e":0.50,"u":0.0},{"t":2010.4,"seg":1,"n":0.78,"e":1.22,"u":-0.2},{"t":2010.5,"seg":1,"n":0.10,"e":1.50,"u":-0.2},{"t":2010.6,"seg":1,"n":-0.58,"e":1.22,"u":0.0},{"t":2010.7,"seg":1,"n":-0.99,"e":0.50,"u":0.3},{"t":2010.8,"seg":1,"n":-0.99,"e":-0.40,"u":0.6},{"t":2010.9,"seg":1,"n":-0.58,"e":-1.12,"u":0.8},
{"t":2011.0,"seg":1,"n":0.10,"e":-1.40,"u":0.8},{"t":2011.1,"seg":1,"n":0.78,"e":-1.12,"u":0.6},{"t":2011.2,"seg":1,"n":1.19,"e":-0.40,"u":0.3},{"t":2011.3,"seg":1,"n":1.19,"e":0.50,"u":0.0},{"t":2011.4,"seg":1,"n":0.78,"e":1.22,"u":-0.2},{"t":2011.5,"seg":1,"n":0.10,"e":1.50,"u":-0.2},{"t":2011.53,"seg":1,"n":-0.12,"e":1.47,"u":-0.2},
{"t":2011.55,"seg":2,"n":-0.26,"e":1.43,"u":-0.1},{"t":2011.6,"seg":2,"n":-0.58,"e":1.22,"u":0.0},{"t":2011.7,"seg":2,"n":-0.99,"e":0.50,"u":0.3},{"t":2011.8,"seg":2,"n":-0.99,"e":-0.40,"u":0.6},{"t":2011.9,"seg":2,"n":-0.58,"e":-1.12,"u":0.8},
{"t":2012.0,"seg":2,"n":0.10,"e":-1.40,"u":0.8},{"t":2012.1,"seg":2,"n":0.78,"e":-1.12,"u":0.6},{"t":2012.2,"seg":2,"n":1.19,"e":-0.40,"u":0.3},{"t":2012.3,"seg":2,"n":1.19,"e":0.50,"u":0.0},{"t":2012.4,"seg":2,"n":0.78,"e":1.22,"u":-0.2},{"t":2012.5,"seg":2,"n":0.10,"e":1.50,"u":-0.2},{"t":2012.6,"seg":2,"n":-0.58,"e":1.22,"u":0.0},{"t":2012.7,"seg":2,"n":-0.99,"e":0.50,"u":0.3},{"t":2012.75,"seg":2,"n":-1.05,"e":0.05,"u":0.45}
],
"change": [{"t":2011.285,"lo":-20,"hi":20}],
"keys": [{"k":"Ημερήσια σφάλματα"},{"k":"Εποχή αλλαγής απο IGS05 σε IGS08"},{"k":"Ετήσιο και εξαμηνιαίο αρμονικό σήμα"},{"k":"Προβληματική παρατήρηση"}]
},
"vconcat": [
{
 "width": 992, "height": 145,
 "title": {"text": "RESIDUALS OF STATION AUT1", "fontSize": 15, "fontWeight": "normal", "font": "Liberation Sans", "color": "black", "offset": -2},
 "resolve": {"axis": {"x": "independent", "y": "independent"}},
 "layer": [
  {"data": {"name": "daily"}, "mark": {"type": "point", "shape": "diamond", "filled": true, "size": 34, "color": "#0000ff", "opacity": 1},
   "encoding": {
    "x": {"field": "t", "type": "quantitative", "scale": {"domain": [2007, 2013], "nice": false, "zero": false}, "axis": {"values": [2007,2008,2009,2010,2011,2012,2013], "format": "d", "grid": true, "title": null, "labelPadding": 4}},
    "y": {"field": "n", "type": "quantitative", "scale": {"domain": [-10, 10], "nice": false}, "axis": {"values": [-10,-5,0,5,10], "grid": true, "title": "Norht [mm]", "labelPadding": 5, "titlePadding": 3}}}},
  {"data": {"name": "curve"}, "mark": {"type": "line", "color": "#1ee61e", "strokeWidth": 5, "interpolate": "natural"},
   "encoding": {"x": {"field": "t", "type": "quantitative", "axis": null}, "y": {"field": "n", "type": "quantitative", "axis": null}, "detail": {"field": "seg", "type": "nominal"}}},
  {"data": {"name": "bad"}, "transform": [{"filter": "datum.c === 'N'"}], "mark": {"type": "point", "shape": "diamond", "filled": true, "size": 34, "color": "#ff0000", "opacity": 1},
   "encoding": {"x": {"field": "t", "type": "quantitative", "axis": null}, "y": {"field": "v", "type": "quantitative", "axis": null}}},
  {"data": {"name": "change"}, "mark": {"type": "rule", "color": "#ff0000", "strokeWidth": 1, "clip": true},
   "encoding": {"x": {"field": "t", "type": "quantitative", "axis": {"orient": "top", "values": [2008,2009,2010,2011,2012], "labels": false, "grid": false, "title": null, "domain": false, "ticks": true, "tickSize": 6, "offset": -6}}, "y": {"field": "lo", "type": "quantitative", "axis": {"orient": "right", "values": [-5,0,5], "labels": false, "grid": false, "title": null, "domain": false, "ticks": true, "tickSize": 6, "offset": -6}}, "y2": {"field": "hi"}}}
 ]
},
{
 "width": 992, "height": 145,
 "resolve": {"axis": {"x": "independent", "y": "independent"}},
 "layer": [
  {"data": {"name": "daily"}, "mark": {"type": "point", "shape": "diamond", "filled": true, "size": 34, "color": "#0000ff", "opacity": 1},
   "encoding": {
    "x": {"field": "t", "type": "quantitative", "scale": {"domain": [2007, 2013], "nice": false, "zero": false}, "axis": {"values": [2007,2008,2009,2010,2011,2012,2013], "format": "d", "grid": true, "title": null, "labelPadding": 4}},
    "y": {"field": "e", "type": "quantitative", "scale": {"domain": [-10, 10], "nice": false}, "axis": {"values": [-10,-5,0,5,10], "grid": true, "title": "East [mm]", "labelPadding": 5, "titlePadding": 3}}}},
  {"data": {"name": "curve"}, "mark": {"type": "line", "color": "#1ee61e", "strokeWidth": 5, "interpolate": "natural"},
   "encoding": {"x": {"field": "t", "type": "quantitative", "axis": null}, "y": {"field": "e", "type": "quantitative", "axis": null}, "detail": {"field": "seg", "type": "nominal"}}},
  {"data": {"name": "bad"}, "transform": [{"filter": "datum.c === 'E'"}], "mark": {"type": "point", "shape": "diamond", "filled": true, "size": 34, "color": "#ff0000", "opacity": 1},
   "encoding": {"x": {"field": "t", "type": "quantitative", "axis": null}, "y": {"field": "v", "type": "quantitative", "axis": null}}},
  {"data": {"name": "change"}, "mark": {"type": "rule", "color": "#ff0000", "strokeWidth": 1, "clip": true},
   "encoding": {"x": {"field": "t", "type": "quantitative", "axis": {"orient": "top", "values": [2008,2009,2010,2011,2012], "labels": false, "grid": false, "title": null, "domain": false, "ticks": true, "tickSize": 6, "offset": -6}}, "y": {"field": "lo", "type": "quantitative", "axis": {"orient": "right", "values": [-5,0,5], "labels": false, "grid": false, "title": null, "domain": false, "ticks": true, "tickSize": 6, "offset": -6}}, "y2": {"field": "hi"}}}
 ]
},
{
 "width": 992, "height": 145,
 "title": {"text": ["Created by H&D MOGS", "M.Chatzinikos"], "orient": "bottom", "anchor": "start", "frame": "group", "font": "Liberation Serif", "fontSize": 12.5, "fontWeight": "normal", "lineHeight": 17, "offset": -19, "dx": -13, "color": "black"},
 "resolve": {"axis": {"x": "independent", "y": "independent"}},
 "layer": [
  {"data": {"name": "daily"}, "mark": {"type": "point", "shape": "diamond", "filled": true, "size": 34, "color": "#0000ff", "opacity": 1},
   "encoding": {
    "x": {"field": "t", "type": "quantitative", "scale": {"domain": [2007, 2013], "nice": false, "zero": false}, "axis": {"values": [2007,2008,2009,2010,2011,2012,2013], "format": "d", "grid": true, "title": "Year", "titleFontSize": 13, "titlePadding": 7.5, "labelPadding": 4}},
    "y": {"field": "u", "type": "quantitative", "scale": {"domain": [-20, 40], "nice": false}, "axis": {"values": [-20,0,20,40], "grid": true, "title": "Up [mm]", "labelPadding": 5, "titlePadding": 3}}}},
  {"data": {"name": "curve"}, "mark": {"type": "line", "color": "#1ee61e", "strokeWidth": 5, "interpolate": "natural"},
   "encoding": {"x": {"field": "t", "type": "quantitative", "axis": null}, "y": {"field": "u", "type": "quantitative", "axis": null}, "detail": {"field": "seg", "type": "nominal"}}},
  {"data": {"name": "bad"}, "transform": [{"filter": "datum.c === 'U'"}], "mark": {"type": "point", "shape": "diamond", "filled": true, "size": 34, "color": "#ff0000", "opacity": 1},
   "encoding": {"x": {"field": "t", "type": "quantitative", "axis": null}, "y": {"field": "v", "type": "quantitative", "axis": null}}},
  {"data": {"name": "change"}, "mark": {"type": "rule", "color": "#ff0000", "strokeWidth": 1, "clip": true},
   "encoding": {"x": {"field": "t", "type": "quantitative", "axis": {"orient": "top", "values": [2008,2009,2010,2011,2012], "labels": false, "grid": false, "title": null, "domain": false, "ticks": true, "tickSize": 6, "offset": -6}}, "y": {"field": "lo", "type": "quantitative", "axis": {"orient": "right", "values": [0,20], "labels": false, "grid": false, "title": null, "domain": false, "ticks": true, "tickSize": 6, "offset": -6}}, "y2": {"field": "hi"}}},
  {"data": {"name": "keys"}, "transform": [{"filter": "false"}], "mark": {"type": "point", "filled": true, "size": 1600, "opacity": 1},
   "encoding": {
    "color": {"field": "k", "type": "nominal", "scale": {"domain": ["Ημερήσια σφάλματα", "Εποχή αλλαγής απο IGS05 σε IGS08", "Ετήσιο και εξαμηνιαίο αρμονικό σήμα", "Προβληματική παρατήρηση"], "range": ["#0000ff", "#ff0000", "#1ee61e", "#ff0000"]},
      "legend": {"title": null, "orient": "none", "legendX": 715.5, "legendY": 523.5, "direction": "vertical", "strokeColor": "black", "fillColor": "white", "padding": 6, "labelFontSize": 13.3, "labelFont": "Liberation Sans", "labelColor": "black", "labelOffset": 3, "rowPadding": 2.5, "clipHeight": 15, "symbolSize": 1600, "symbolStrokeWidth": 0, "labelLimit": 400, "zindex": 5}},
    "shape": {"field": "k", "type": "nominal", "scale": {"domain": ["Ημερήσια σφάλματα", "Εποχή αλλαγής απο IGS05 σε IGS08", "Ετήσιο και εξαμηνιαίο αρμονικό σήμα", "Προβληματική παρατήρηση"], "range": ["M0,-0.15L0.15,0L0,0.15L-0.15,0Z", "M-1,-0.03L1,-0.03L1,0.03L-1,0.03Z", "M-1,-0.025h0.05v0.05h-0.05Z M-0.85,-0.025h0.05v0.05h-0.05Z M-0.7,-0.025h0.05v0.05h-0.05Z M-0.55,-0.025h0.05v0.05h-0.05Z M-0.4,-0.025h0.05v0.05h-0.05Z M-0.25,-0.025h0.05v0.05h-0.05Z M0.2,-0.025h0.05v0.05h-0.05Z M0.35,-0.025h0.05v0.05h-0.05Z M0.5,-0.025h0.05v0.05h-0.05Z M0.65,-0.025h0.05v0.05h-0.05Z M0.8,-0.025h0.05v0.05h-0.05Z M0.95,-0.025h0.05v0.05h-0.05Z M0,-0.15L0.15,0L0,0.15L-0.15,0Z", "M0,-0.15L0.15,0L0,0.15L-0.15,0Z"]}}
   }}
 ]
}
]
}
